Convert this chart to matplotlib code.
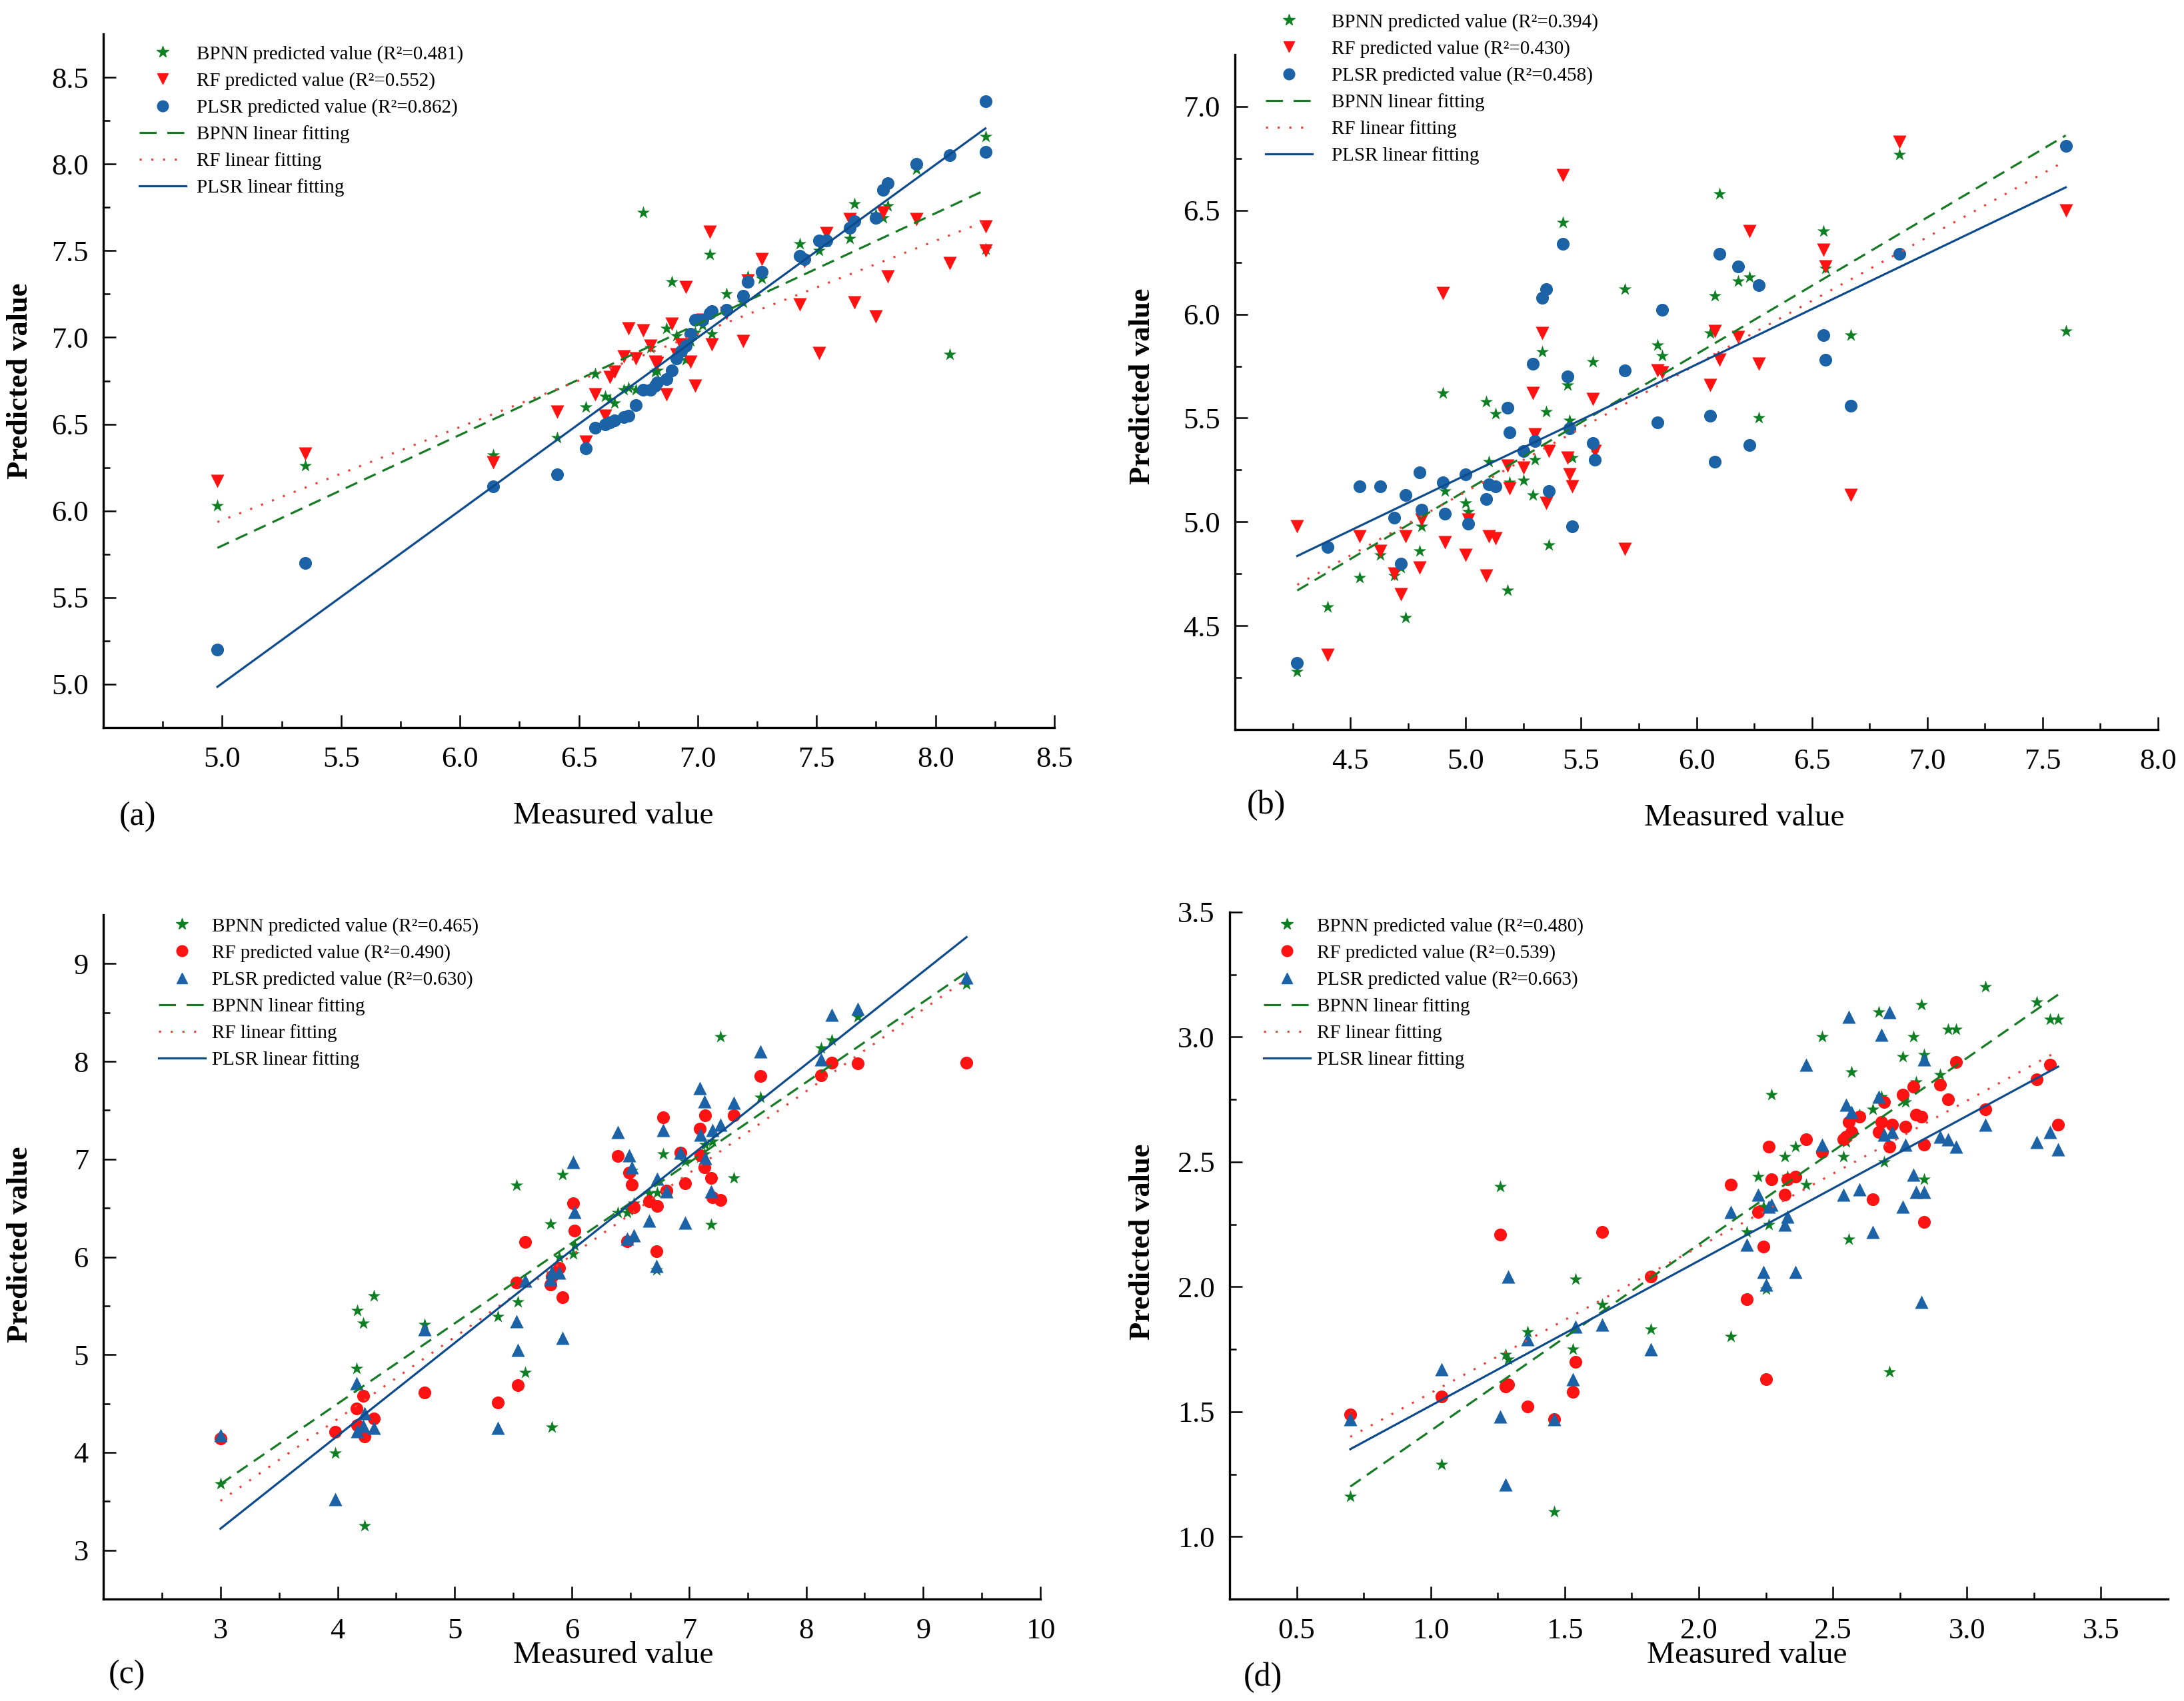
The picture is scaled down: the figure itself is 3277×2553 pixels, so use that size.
import numpy as np
import matplotlib
matplotlib.use('Agg')
import matplotlib.pyplot as plt
from matplotlib.lines import Line2D

plt.rcParams['font.family'] = ['Liberation Serif', 'DejaVu Serif']

# ---- data ----
# (a)
a_measured = [4.98, 5.35, 6.14, 6.41, 6.53, 6.57, 6.61, 6.63, 6.65, 6.69, 6.71, 6.74, 6.77, 6.80,
              6.82, 6.83, 6.87, 6.89, 6.91, 6.93, 6.95, 6.97, 6.99, 7.02, 7.05, 7.06, 7.12, 7.19,
              7.21, 7.27, 7.43, 7.45, 7.51, 7.54, 7.64, 7.66, 7.75, 7.78, 7.80, 7.92, 8.06, 8.21, 8.21]
a_bpnn = [6.03, 6.26, 6.32, 6.42, 6.60, 6.79, 6.66, 6.64, 6.62, 6.70, 6.71, 6.70, 7.72, 6.94,
          6.80, 6.81, 7.05, 7.32, 7.01, 6.92, 6.87, 6.98, 7.03, 7.07, 7.48, 7.02, 7.25, 7.20,
          7.35, 7.34, 7.54, 7.46, 7.50, 7.55, 7.57, 7.77, 7.71, 7.69, 7.76, 7.97, 6.90, 8.16, 7.51]
a_rf = [6.17, 6.33, 6.28, 6.57, 6.40, 6.67, 6.55, 6.77, 6.80, 6.89, 7.05, 6.88, 7.04, 6.95,
        6.86, 6.85, 6.67, 7.08, 6.90, 6.96, 7.29, 6.86, 6.72, 7.10, 7.61, 6.96, 7.14, 6.98,
        7.33, 7.45, 7.19, 7.44, 6.91, 7.60, 7.68, 7.20, 7.12, 7.72, 7.35, 7.68, 7.43, 7.64, 7.50]
a_plsr = [5.20, 5.70, 6.14, 6.21, 6.36, 6.48, 6.50, 6.51, 6.52, 6.54, 6.55, 6.61, 6.70, 6.70,
          6.72, 6.74, 6.76, 6.81, 6.88, 6.92, 6.95, 7.02, 7.10, 7.10, 7.14, 7.15, 7.16, 7.24,
          7.32, 7.38, 7.47, 7.45, 7.56, 7.56, 7.63, 7.67, 7.69, 7.85, 7.89, 8.00, 8.05, 8.36, 8.07]
a_r2 = [0.481, 0.552, 0.862]
a_fits = [(0.639, 2.604), (0.537, 3.261), (0.997, 0.02)]   # slope, intercept: BPNN, RF, PLSR

# (b)
b_measured = [4.27, 4.40, 4.54, 4.63, 4.69, 4.72, 4.74, 4.80, 4.81, 4.90, 4.91, 5.00, 5.01, 5.09,
              5.10, 5.13, 5.18, 5.19, 5.25, 5.29, 5.30, 5.33, 5.35, 5.36, 5.42, 5.44, 5.45, 5.46,
              5.55, 5.56, 5.69, 5.83, 5.85, 6.06, 6.08, 6.10, 6.18, 6.23, 6.27, 6.55, 6.56, 6.67,
              6.88, 7.60]
b_bpnn = [4.28, 4.59, 4.73, 4.84, 4.74, 4.78, 4.54, 4.86, 4.98, 5.62, 5.15, 5.09, 5.05, 5.58,
          5.29, 5.52, 4.67, 5.19, 5.20, 5.13, 5.30, 5.82, 5.53, 4.89, 6.44, 5.66, 5.49, 5.31,
          5.77, 5.36, 6.12, 5.85, 5.80, 5.91, 6.09, 6.58, 6.16, 6.18, 5.50, 6.40, 6.22, 5.90,
          6.77, 5.92]
b_rf = [4.98, 4.36, 4.93, 4.86, 4.75, 4.65, 4.93, 4.78, 5.01, 6.10, 4.90, 4.84, 5.01, 4.74,
        4.93, 4.92, 5.27, 5.16, 5.26, 5.62, 5.42, 5.91, 5.09, 5.34, 6.67, 5.31, 5.23, 5.17,
        5.59, 5.34, 4.87, 5.73, 5.72, 5.66, 5.92, 5.78, 5.89, 6.40, 5.76, 6.31, 6.23, 5.13,
        6.83, 6.50]
b_plsr = [4.32, 4.88, 5.17, 5.17, 5.02, 4.80, 5.13, 5.24, 5.06, 5.19, 5.04, 5.23, 4.99, 5.11,
          5.18, 5.17, 5.55, 5.43, 5.34, 5.76, 5.39, 6.08, 6.12, 5.15, 6.34, 5.70, 5.45, 4.98,
          5.38, 5.30, 5.73, 5.48, 6.02, 5.51, 5.29, 6.29, 6.23, 5.37, 6.14, 5.90, 5.78, 5.56,
          6.29, 6.81]
b_r2 = [0.394, 0.430, 0.458]
b_fits = [(0.658, 1.86), (0.613, 2.08), (0.533, 2.56)]

# (c)
c_measured = [3.00, 3.98, 4.16, 4.17, 4.22, 4.23, 4.31, 4.74, 5.37, 5.53, 5.54, 5.60, 5.82, 5.83,
              5.89, 5.92, 6.01, 6.02, 6.39, 6.47, 6.49, 6.51, 6.53, 6.66, 6.72, 6.73, 6.78, 6.81,
              6.93, 6.97, 7.09, 7.10, 7.13, 7.14, 7.19, 7.20, 7.27, 7.38, 7.61, 8.13, 8.22, 8.44,
              9.37]
c_bpnn = [3.68, 3.99, 4.86, 5.45, 5.32, 3.25, 5.60, 5.31, 5.39, 6.73, 5.54, 4.82, 6.34, 4.26,
          6.00, 6.84, 6.03, 6.12, 6.45, 6.45, 6.48, 6.88, 6.55, 6.65, 5.87, 6.66, 7.05, 6.68,
          7.06, 6.98, 7.05, 7.02, 7.05, 7.15, 6.33, 7.18, 8.25, 6.81, 7.63, 8.14, 8.22, 8.46,
          8.79]
c_rf = [4.14, 4.21, 4.45, 4.28, 4.58, 4.16, 4.35, 4.61, 4.51, 5.74, 4.69, 6.15, 5.72, 5.80,
        5.89, 5.59, 6.55, 6.27, 7.03, 6.16, 6.86, 6.74, 6.51, 6.57, 6.06, 6.52, 7.43, 6.68,
        7.07, 6.75, 7.31, 7.04, 6.92, 7.45, 6.81, 6.61, 6.58, 7.45, 7.85, 7.86, 7.99, 7.98,
        7.99]
c_plsr = [4.18, 3.52, 4.71, 4.22, 4.27, 4.40, 4.25, 5.26, 4.25, 5.34, 5.05, 5.76, 5.77, 5.85,
          5.84, 5.17, 6.97, 6.46, 7.28, 6.19, 7.04, 6.92, 6.22, 6.37, 5.91, 6.80, 7.30, 6.67,
          7.07, 6.35, 7.73, 7.25, 7.59, 7.01, 6.67, 7.30, 7.35, 7.58, 8.10, 8.02, 8.48, 8.54,
          8.86]
c_r2 = [0.465, 0.490, 0.630]
c_fits = [(0.822, 1.21), (0.838, 0.99), (0.950, 0.37)]

# (d)
d_measured = [0.70, 1.04, 1.26, 1.29, 1.28, 1.36, 1.46, 1.53, 1.54, 1.64, 1.82, 2.12, 2.18, 2.22,
              2.24, 2.25, 2.26, 2.27, 2.32, 2.33, 2.36, 2.40, 2.46, 2.54, 2.55, 2.56, 2.57, 2.60,
              2.65, 2.67, 2.68, 2.69, 2.71, 2.72, 2.76, 2.77, 2.80, 2.81, 2.83, 2.84, 2.84, 2.90,
              2.93, 2.96, 3.07, 3.26, 3.31, 3.34]
d_bpnn = [1.16, 1.29, 2.40, 1.71, 1.73, 1.82, 1.10, 1.75, 2.03, 1.93, 1.83, 1.80, 2.22, 2.44,
          2.32, 1.99, 2.25, 2.77, 2.52, 2.44, 2.56, 2.41, 3.00, 2.52, 2.58, 2.19, 2.86, 2.69,
          2.71, 3.10, 2.76, 2.50, 1.66, 2.65, 2.92, 2.74, 3.00, 2.82, 3.13, 2.43, 2.93, 2.85,
          3.03, 3.03, 3.20, 3.14, 3.07, 3.07]
d_rf = [1.49, 1.56, 2.21, 1.61, 1.60, 1.52, 1.47, 1.58, 1.70, 2.22, 2.04, 2.41, 1.95, 2.30,
        2.16, 1.63, 2.56, 2.43, 2.37, 2.43, 2.44, 2.59, 2.54, 2.59, 2.60, 2.66, 2.62, 2.68,
        2.35, 2.62, 2.66, 2.74, 2.56, 2.65, 2.77, 2.64, 2.80, 2.69, 2.68, 2.26, 2.57, 2.81,
        2.75, 2.90, 2.71, 2.83, 2.89, 2.65]
d_plsr = [1.47, 1.67, 1.48, 2.04, 1.21, 1.79, 1.47, 1.63, 1.84, 1.85, 1.75, 2.30, 2.17, 2.37,
          2.06, 2.01, 2.32, 2.33, 2.25, 2.28, 2.06, 2.89, 2.57, 2.37, 2.73, 3.08, 2.70, 2.39,
          2.22, 2.76, 3.01, 2.61, 3.10, 2.62, 2.32, 2.57, 2.45, 2.38, 1.94, 2.91, 2.38, 2.60,
          2.59, 2.56, 2.65, 2.58, 2.62, 2.55]
d_r2 = [0.480, 0.539, 0.663]
d_fits = [(0.746, 0.678), (0.585, 0.99), (0.580, 0.944)]

GREEN = '#0e7f22'
RED = '#ff1212'
BLUE = '#1b62a6'
LINE_GREEN = '#177a25'
LINE_RED = '#e8453f'
LINE_BLUE = '#0d4b8c'
DASH = (0, (6, 3.5))
DOT = (0, (1, 4.5))

W, H = 3277, 2553
fig = plt.figure(figsize=(W / 100, H / 100), dpi=100)


def px_box(left, right, bottom, top):
    # pixel box -> figure fraction rect
    return [left / W, 1 - bottom / H, (right - left) / W, (bottom - top) / H]


def draw_panel(ax, measured, bpnn, rf, plsr, fits, r2, rf_marker, plsr_marker,
               xlim, ylim, xmaj, xmin, ymaj, ymin):
    ax.scatter(measured, bpnn, marker='*', s=210, color=GREEN, linewidths=0, zorder=3)
    ax.scatter(measured, rf, marker=rf_marker, s=190 if rf_marker == 'o' else 210,
               color=RED, linewidths=0, zorder=3)
    ax.scatter(measured, plsr, marker=plsr_marker, s=190 if plsr_marker == 'o' else 210,
               color=BLUE, linewidths=0, zorder=3)

    xs = np.array([min(measured), max(measured)])
    styles = [(LINE_GREEN, DASH), (LINE_RED, DOT), (LINE_BLUE, '-')]
    for (k, b), (col, ls) in zip(fits, styles):
        ax.plot(xs, k * xs + b, color=col, linestyle=ls, linewidth=2.3, zorder=4)

    ax.set_xlim(*xlim)
    ax.set_ylim(*ylim)
    ax.set_xticks(xmaj)
    ax.set_xticks(xmin, minor=True)
    ax.set_yticks(ymaj)
    ax.set_yticks(ymin, minor=True)
    for s in ['top', 'right']:
        ax.spines[s].set_visible(False)
    for s in ['left', 'bottom']:
        ax.spines[s].set_linewidth(2.4)
    ax.tick_params(which='both', direction='in', width=1.8, labelsize=32)
    ax.tick_params(which='major', length=14)
    ax.tick_params(which='minor', length=7)
    ax.tick_params(axis='x', pad=20)
    ax.tick_params(axis='y', pad=16)
    ax.patch.set_alpha(0)

    handles = [
        Line2D([], [], marker='*', color=GREEN, linestyle='none', markersize=13),
        Line2D([], [], marker=rf_marker, color=RED, linestyle='none', markersize=12),
        Line2D([], [], marker=plsr_marker, color=BLUE, linestyle='none', markersize=12),
        Line2D([], [], color=LINE_GREEN, linestyle=(0, (8, 5)), linewidth=2.3),
        Line2D([], [], color=LINE_RED, linestyle=DOT, linewidth=2.3),
        Line2D([], [], color=LINE_BLUE, linestyle='-', linewidth=2.3),
    ]
    labels = [
        'BPNN predicted value (R\u00b2=%.3f)' % r2[0],
        'RF predicted value (R\u00b2=%.3f)' % r2[1],
        'PLSR predicted value (R\u00b2=%.3f)' % r2[2],
        'BPNN linear fitting',
        'RF linear fitting',
        'PLSR linear fitting',
    ]
    return handles, labels


panels = [
    dict(box=px_box(155, 1582, 1092, 51),
         data=(a_measured, a_bpnn, a_rf, a_plsr, a_fits, a_r2), rf='v', pl='o',
         xlim=(4.5, 8.5), ylim=(4.75, 8.75),
         xmaj=np.arange(5.0, 8.51, 0.5), xmin=np.arange(4.75, 8.3, 0.5),
         ymaj=np.arange(5.0, 8.51, 0.5), ymin=np.arange(5.25, 8.3, 0.5),
         leg=(209, 68, 0.55), tag='(a)', tagpos=(206, 1226),
         xl=(920, 1225), yl=(30, 572)),
    dict(box=px_box(1853, 3238, 1095, 82),
         data=(b_measured, b_bpnn, b_rf, b_plsr, b_fits, b_r2), rf='v', pl='o',
         xlim=(4.0, 8.0), ylim=(4.0, 7.25),
         xmaj=np.arange(4.5, 8.01, 0.5), xmin=np.arange(4.25, 7.8, 0.5),
         ymaj=np.arange(4.5, 7.01, 0.5), ymin=np.arange(4.25, 6.8, 0.5),
         leg=(1899, 20, 1.0), tag='(b)', tagpos=(1900, 1209),
         xl=(2617, 1228), yl=(1714, 580)),
    dict(box=px_box(155, 1561, 2400, 1373),
         data=(c_measured, c_bpnn, c_rf, c_plsr, c_fits, c_r2), rf='o', pl='^',
         xlim=(2.0, 10.0), ylim=(2.5, 9.5),
         xmaj=np.arange(3, 10.1, 1), xmin=np.arange(2.5, 9.6, 1),
         ymaj=np.arange(3, 9.1, 1), ymin=np.arange(3.5, 8.6, 1),
         leg=(238, 1377, 0.35), tag='(c)', tagpos=(190, 2514),
         xl=(920, 2485), yl=(30, 1868)),
    dict(box=px_box(1845, 3253, 2400, 1369),
         data=(d_measured, d_bpnn, d_rf, d_plsr, d_fits, d_r2), rf='o', pl='^',
         xlim=(0.25, 3.75), ylim=(0.75, 3.5),
         xmaj=np.arange(0.5, 3.51, 0.5), xmin=np.arange(0.75, 3.3, 0.5),
         ymaj=np.arange(1.0, 3.51, 0.5), ymin=np.arange(1.25, 3.3, 0.5),
         leg=(1896, 1377, 0.35), tag='(d)', tagpos=(1895, 2518),
         xl=(2621, 2485), yl=(1714, 1864)),
]

for p in panels:
    ax = fig.add_axes(p['box'])
    m, bp, rf, pl, fits, r2 = p['data']
    handles, labels = draw_panel(ax, m, bp, rf, pl, fits, r2, p['rf'], p['pl'],
                                 p['xlim'], p['ylim'], p['xmaj'], p['xmin'],
                                 p['ymaj'], p['ymin'])
    lx, ly, tpad = p['leg']
    fig.legend(handles, labels, loc='upper left', bbox_to_anchor=(lx / W, 1 - ly / H),
               bbox_transform=fig.transFigure, frameon=False, fontsize=21,
               borderpad=0, borderaxespad=0, handlelength=2.4, handletextpad=tpad,
               labelspacing=0.45)
    fig.text(p['tagpos'][0] / W, 1 - p['tagpos'][1] / H, p['tag'], fontsize=36,
             ha='center', va='center')
    fig.text(p['xl'][0] / W, 1 - p['xl'][1] / H, 'Measured value', fontsize=34,
             ha='center', va='center')
    fig.text(p['yl'][0] / W, 1 - p['yl'][1] / H, 'Predicted value', fontsize=32,
             fontweight='bold', rotation=90, ha='center', va='center')

fig.savefig('out.png', dpi=100)
